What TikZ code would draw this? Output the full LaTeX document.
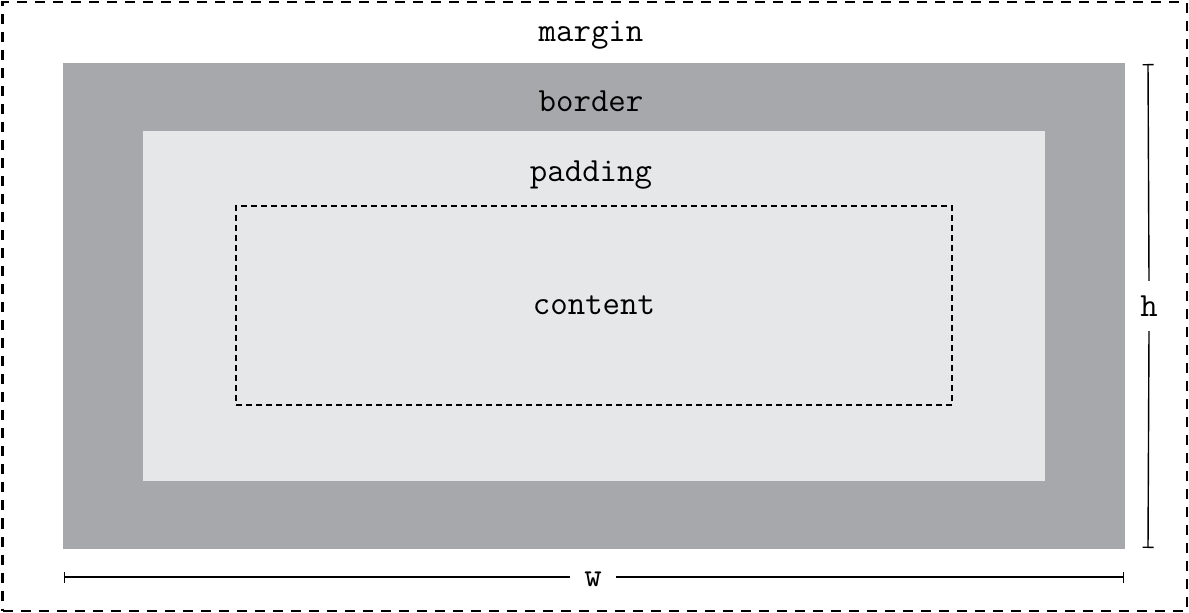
\documentclass[tikz,border=0pt]{standalone}
\usetikzlibrary{arrows.meta}
\definecolor{bordergray}{HTML}{A7A8AB}
\definecolor{paddinggray}{HTML}{E6E7E9}

\begin{document}
\begin{tikzpicture}[x=1bp,y=-1bp]
\tikzset{
  BoxStyle/.style = {inner sep=0pt, outer sep=0pt, anchor=north west},
  LabelStyle/.style = {inner sep=0pt, font=\fontsize{34}{34}\selectfont\ttfamily},
  DimStyle/.style = {line width=1.4bp},
  DimTip/.style = {{Bar[width=11bp,line width=1.4bp]}-},
  DimTipEnd/.style = {-{Bar[width=11bp,line width=1.4bp]}},
}
\useasboundingbox (0,0) rectangle (1189,613);

  % margin
  \node[BoxStyle, draw, line width=2bp, dash pattern=on 10bp off 8bp,
        minimum width=1184bp, minimum height=608bp] (margin) at (2.5,2.5) {};
  % border
  \node[BoxStyle, fill=bordergray,
        minimum width=1062bp, minimum height=486bp] (border) at (63,63) {};
  % padding
  \node[BoxStyle, fill=paddinggray,
        minimum width=902bp, minimum height=350bp] (padding) at (143,131) {};
  % content
  \node[BoxStyle, draw, line width=1.3bp, dash pattern=on 6bp off 4bp,
        minimum width=716bp, minimum height=199bp] (content) at (236,206) {};

  \node[LabelStyle, anchor=base] (marginlabel)  at (591,42)  {margin};
  \node[LabelStyle, anchor=base] (borderlabel)  at (591,112) {border};
  \node[LabelStyle, anchor=base] (paddinglabel) at (591,182) {padding};
  \node[LabelStyle, anchor=base] (contentlabel) at (594,315) {content};

  % h
  \coordinate (htop) at (1148,64);
  \coordinate (hbot) at (1148,548);
  \node[LabelStyle, minimum height=50bp] (hlabel) at (1149,306) {h};
  \draw[DimStyle, DimTip] (htop) -- (hlabel.north);
  \draw[DimStyle, DimTipEnd] (hlabel.south) -- (hbot);

  % w
  \coordinate (wleft) at (64,577);
  \coordinate (wright) at (1124,577);
  \node[LabelStyle, minimum width=46bp] (wlabel) at (593,579) {w};
  \draw[DimStyle, DimTip] (wleft) -- (wlabel.west |- wleft);
  \draw[DimStyle, DimTipEnd] (wlabel.east |- wright) -- (wright);

\end{tikzpicture}
\end{document}
